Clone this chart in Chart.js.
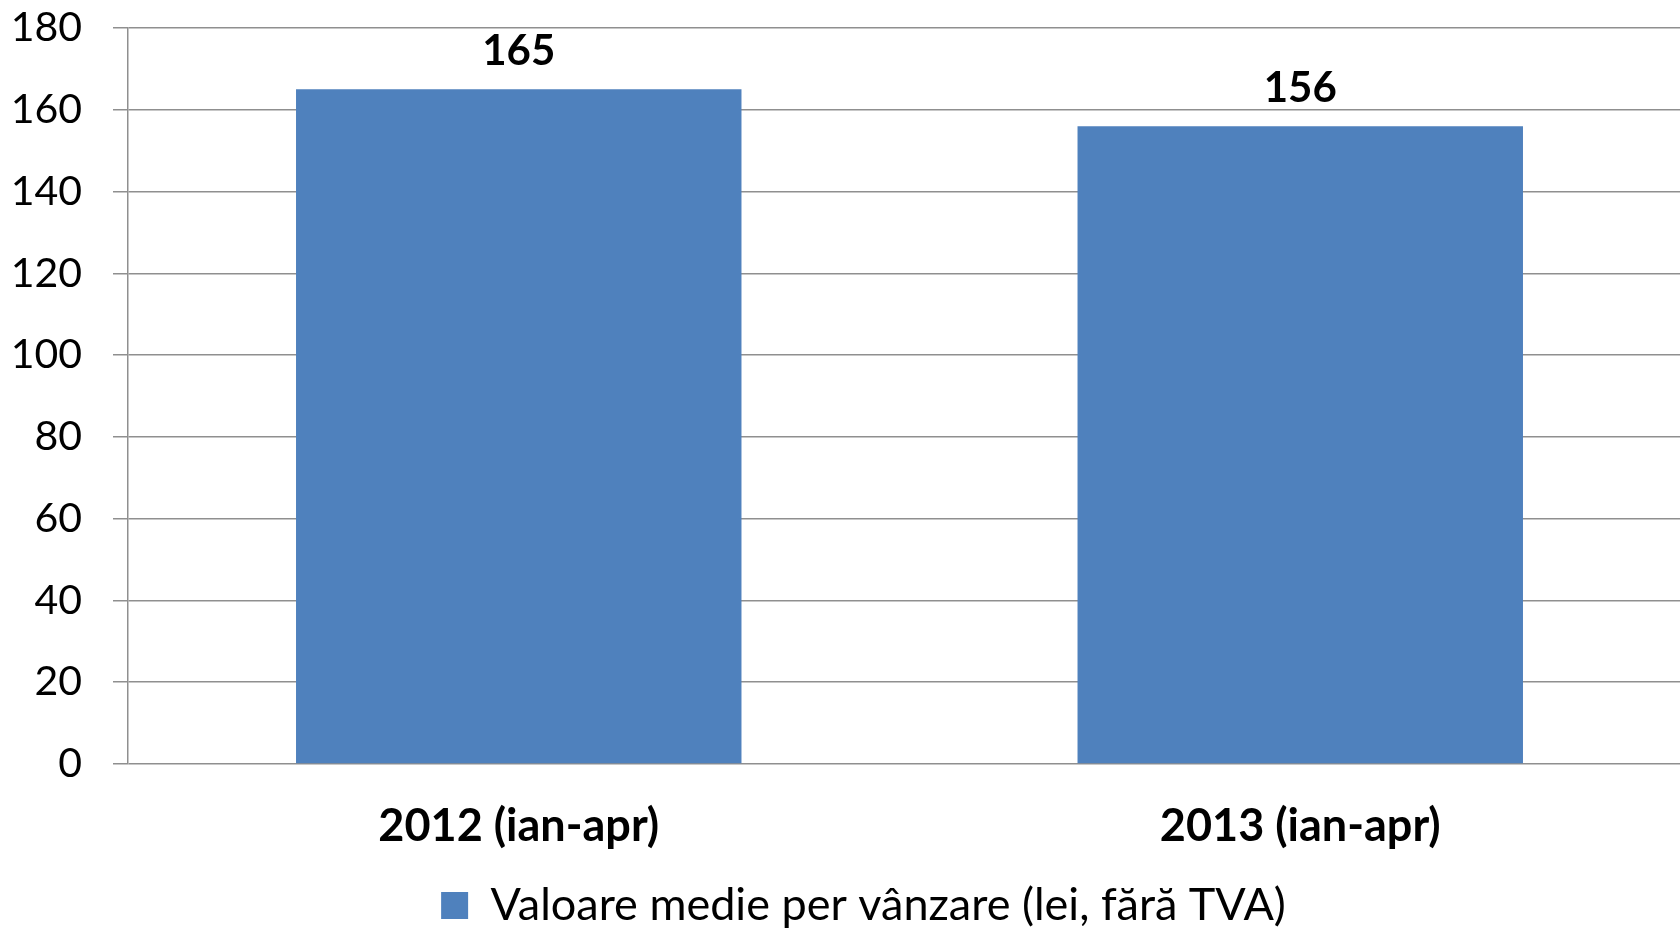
<!DOCTYPE html>
<html>
<head>
<meta charset="utf-8">
<script src="https://cdn.jsdelivr.net/npm/chart.js@4/dist/chart.umd.min.js"></script>
<style>
  html, body { margin: 0; padding: 0; background: #fff; overflow: hidden; width: 1680px; height: 928px; }
  canvas { display: block; }
</style>
</head>
<body>
<canvas id="c" width="1762" height="928"></canvas>
<script>
const categories = ["2012 (ian-apr)", "2013 (ian-apr)"];
const seriesName = "Valoare medie per vânzare (lei, fără TVA)";
const values = [165, 156];
const yTicks = [0, 20, 40, 60, 80, 100, 120, 140, 160, 180];

const FONT = "Lato, 'Open Sans', sans-serif";

const valueLabels = {
  id: 'valueLabels',
  afterDatasetsDraw(chart) {
    const ctx = chart.ctx;
    const meta = chart.getDatasetMeta(0);
    ctx.save();
    ctx.font = "bold 42px " + FONT;
    ctx.fillStyle = "#000";
    ctx.textAlign = "center";
    ctx.textBaseline = "middle";
    meta.data.forEach((bar, i) => {
      ctx.fillText(String(values[i]), bar.x, bar.y - 38);
    });
    ctx.restore();
  }
};

new Chart(document.getElementById('c'), {
  type: 'bar',
  data: {
    labels: categories,
    datasets: [{
      label: seriesName,
      data: values,
      backgroundColor: '#4F81BD',
      borderWidth: 0,
      barPercentage: 1,
      categoryPercentage: 0.57
    }]
  },
  options: {
    responsive: false,
    animation: false,
    devicePixelRatio: 1,
    layout: { padding: { top: 28, right: 35, left: 0, bottom: -10 } },
    plugins: {
      tooltip: { enabled: false },
      legend: {
        position: 'bottom',
        labels: {
          boxWidth: 27,
          boxHeight: 27,
          padding: 1,
          color: '#000',
          font: { family: FONT, size: 45 }
        }
      }
    },
    scales: {
      x: {
        afterFit(scale) { scale.height = 118; },
        grid: { display: false, drawTicks: false },
        border: { display: false },
        ticks: {
          color: '#000',
          padding: 35,
          font: { family: FONT, size: 45, weight: 'bold' }
        }
      },
      y: {
        min: 0,
        max: 180,
        afterFit(scale) {
          scale.width = 128;
          scale.paddingTop = 0;
          scale.paddingBottom = 0;
        },
        afterBuildTicks(scale) { scale.ticks = yTicks.map(v => ({ value: v })); },
        grid: {
          color: '#8f8f8f',
          lineWidth: 1.5,
          tickLength: 15,
          drawTicks: true
        },
        border: { display: true, color: '#8f8f8f', width: 1.5 },
        ticks: {
          color: '#000',
          padding: 31,
          font: { family: FONT, size: 41 }
        }
      },
      yRightSpacer: {
        type: 'linear',
        position: 'right',
        display: true,
        min: 0,
        max: 180,
        grid: { display: false, drawTicks: false },
        border: { display: false },
        ticks: { display: false },
        afterFit(scale) {
          scale.width = 36;
          scale.paddingTop = 0;
          scale.paddingBottom = 0;
        }
      }
    }
  },
  plugins: [valueLabels]
});
</script>
</body>
</html>
